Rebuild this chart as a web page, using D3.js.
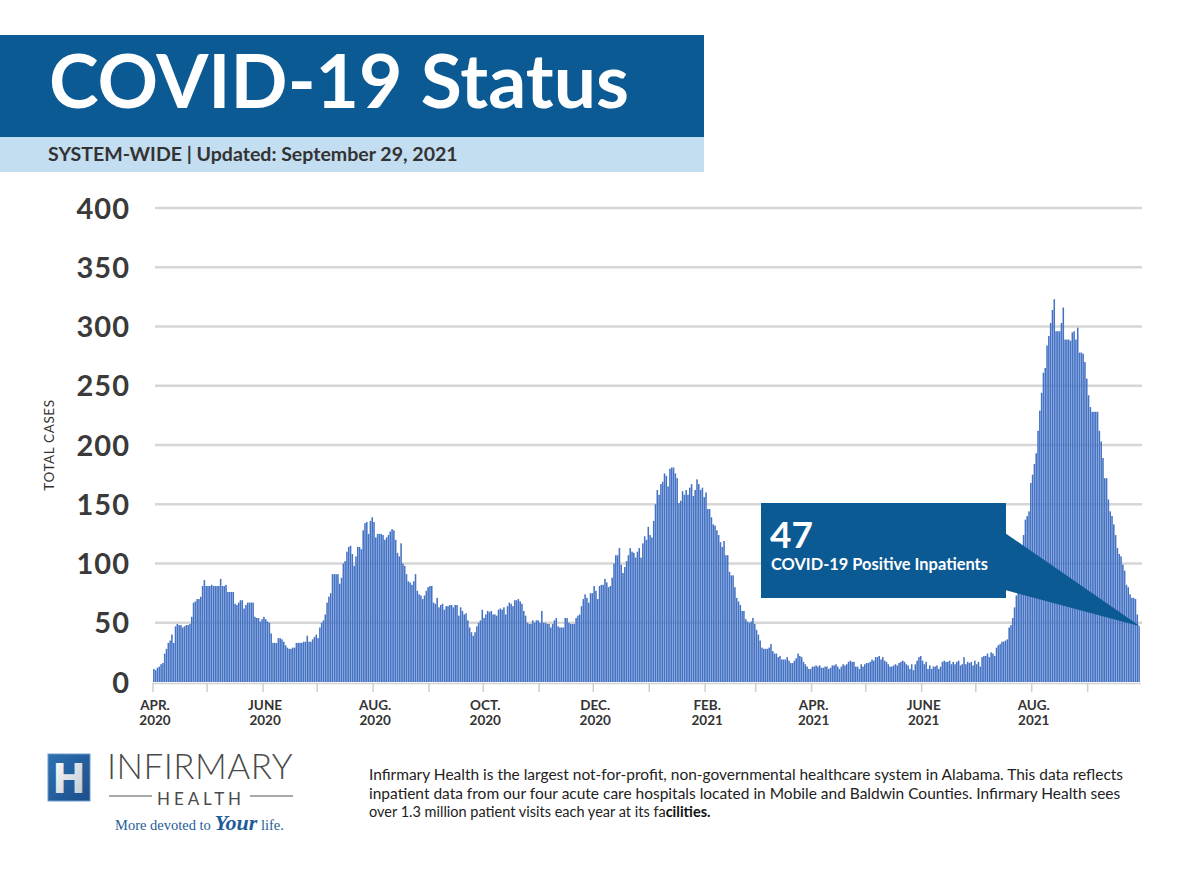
<!DOCTYPE html>
<html><head><meta charset="utf-8">
<script src="https://cdn.jsdelivr.net/npm/d3@7"></script>
<style>
html,body{margin:0;padding:0;background:#fff;}
svg{display:block;font-family:Lato,"Open Sans",sans-serif;}
</style></head>
<body>
<svg id="chart" width="1200" height="875"></svg>
<script>
// ---------- DATA ----------
const startDay = "2020-04-01";
const endDay = "2021-09-30";
// daily COVID-19 positive inpatients, Apr 1 2020 .. Sep 29 2021
const inpatients = [
11,10,12,13,15,16,24,28,33,35,
40,33,47,49,48,48,46,47,48,48,
49,55,67,68,70,70,72,81,86,81,
81,81,82,81,81,81,81,87,81,81,
82,76,76,76,76,66,65,67,69,69,
62,65,67,67,67,67,55,54,54,51,
53,55,53,51,50,41,33,33,33,37,
37,36,34,31,29,28,28,29,29,33,
33,33,33,34,34,39,34,34,36,38,
40,37,46,50,52,57,67,72,75,91,
91,91,91,83,88,100,102,110,114,115,
108,98,106,114,114,112,128,134,135,125,
136,139,135,122,125,125,125,124,120,122,
124,127,129,128,120,109,106,117,100,98,
91,85,84,82,85,91,77,74,73,70,
73,77,80,81,81,67,66,71,63,65,
66,61,64,64,65,65,63,65,65,56,
63,60,57,58,52,46,42,39,42,47,
50,52,61,54,57,60,59,60,57,57,
56,61,62,61,63,57,64,67,66,64,
69,69,70,68,66,60,56,50,49,49,
52,50,52,52,50,60,50,50,49,49,
46,49,52,54,47,46,46,46,54,54,
50,49,49,49,54,56,57,64,70,74,
71,67,75,75,81,77,70,81,82,82,
87,84,80,81,88,100,107,107,113,99,
92,97,102,107,113,110,109,105,110,113,
105,117,123,120,131,124,122,136,150,162,
158,167,169,176,174,165,180,181,181,176,
172,151,153,161,158,162,158,164,167,157,
162,171,167,162,164,156,160,146,146,139,
133,132,128,124,118,114,119,107,107,93,
90,90,80,71,68,65,60,60,53,51,
50,51,54,49,44,40,35,29,28,28,
28,29,32,26,24,24,21,22,19,19,
19,21,18,16,16,18,20,24,22,21,
17,15,13,11,11,13,13,14,13,14,
12,12,13,13,11,12,14,14,15,13,
11,13,15,14,15,17,18,17,17,13,
13,11,15,13,15,16,16,17,19,18,
21,21,22,19,21,18,17,15,13,13,
14,15,14,16,17,18,17,15,14,11,
15,10,15,18,21,22,18,15,17,11,
14,11,13,13,14,11,13,17,18,17,
17,18,15,17,15,17,18,14,15,21,
15,17,16,17,14,18,15,17,13,21,
22,22,24,21,25,24,22,29,31,32,
34,34,35,36,46,48,54,63,73,80,
91,105,124,137,140,144,168,175,184,193,
212,229,244,261,265,284,292,303,314,323,
296,296,296,303,316,289,289,289,288,295,
296,289,299,278,278,277,270,256,242,232,
228,228,228,228,212,203,189,172,172,154,
144,140,133,124,113,108,106,99,94,82,
80,74,71,71,70,57,47
];
const yTicks = [0,50,100,150,200,250,300,350,400];
const xLabelDates = ["2020-04-01","2020-06-01","2020-08-01","2020-10-01","2020-12-01","2021-02-01","2021-04-01","2021-06-01","2021-08-01"];
const xLabelMonths = ["APR.","JUNE","AUG.","OCT.","DEC.","FEB.","APR.","JUNE","AUG."];
const xLabelYears = ["2020","2020","2020","2020","2020","2021","2021","2021","2021"];
const titleText = "COVID-19 Status";
const subtitleText = "SYSTEM-WIDE | Updated: September 29, 2021";
const yAxisTitle = "TOTAL CASES";
const calloutValue = "47";
const calloutLabel = "COVID-19 Positive Inpatients";
const footnoteLines = [
 "Infirmary Health is the largest not-for-profit, non-governmental healthcare system in Alabama. This data reflects",
 "inpatient data from our four acute care hospitals located in Mobile and Baldwin Counties. Infirmary Health sees",
 "over 1.3 million patient visits each year at its fa"
];
const footnoteTail = "cilities.";

// ---------- STYLE ----------
const DARK = "#0b5a93", LIGHT = "#c3ddf1", BAR = "#4472c4", GRID = "#d6d6d6", TXT = "#333333";

const parse = d3.timeParse("%Y-%m-%d");
const t0 = parse(startDay), t1 = parse(endDay);
const data = inpatients.map((v,i)=>({date:d3.timeDay.offset(t0,i), value:v}));

const svg = d3.select("#chart");
svg.append("rect").attr("width",1200).attr("height",875).attr("fill","#fff");

function fit(sel, target){
  const w = sel.node().getComputedTextLength();
  const fs = parseFloat(sel.attr("font-size"));
  sel.attr("font-size", fs*target/w);
}
function fitSpacing(sel, target, n){
  sel.attr("letter-spacing",0);
  const w = sel.node().getComputedTextLength();
  sel.attr("letter-spacing", (target - w)/n);
}

// header
svg.append("rect").attr("x",0).attr("y",35).attr("width",704).attr("height",102).attr("fill",DARK);
svg.append("rect").attr("x",0).attr("y",137).attr("width",704).attr("height",35).attr("fill",LIGHT);
const title = svg.append("text").attr("x",49).attr("y",108).attr("fill","#fff")
  .attr("font-size",72).attr("font-weight",700).text(titleText);
fit(title, 580);
const sub = svg.append("text").attr("x",48).attr("y",161).attr("fill",TXT)
  .attr("font-size",17).attr("font-weight",700).text(subtitleText);
fit(sub, 410);

// scales
const x = d3.scaleTime().domain([t0,t1]).range([153,1140]);
const y = d3.scaleLinear().domain([0,400]).range([682,208]);

// gridlines + y labels
const g = svg.append("g");
g.selectAll("line.grid").data(yTicks.filter(d=>d>0)).join("line")
  .attr("x1",155).attr("x2",1142).attr("y1",d=>y(d)).attr("y2",d=>y(d))
  .attr("stroke",GRID).attr("stroke-width",2.6);
g.selectAll("text.yl").data(yTicks).join("text")
  .attr("x",130).attr("y",d=>y(d)+10.5).attr("text-anchor","end")
  .attr("font-size",29).attr("font-weight",700).attr("fill","#3a3a3a")
  .attr("letter-spacing",1).text(d=>d);

svg.append("text").attr("transform","translate(54,445) rotate(-90)")
  .attr("text-anchor","middle").attr("font-size",13.5).attr("fill",TXT)
  .attr("letter-spacing",0.6).text(yAxisTitle);

// x axis line and ticks
svg.append("line").attr("x1",153).attr("x2",1141).attr("y1",683.5).attr("y2",683.5)
  .attr("stroke","#d3d3d3").attr("stroke-width",1.5);
const months = d3.timeMonth.range(t0, t1);
svg.selectAll("line.tick").data(months).join("line")
  .attr("x1",d=>x(d)).attr("x2",d=>x(d)).attr("y1",683).attr("y2",692)
  .attr("stroke","#cfcfcf").attr("stroke-width",1.5);

// bars
svg.append("g").selectAll("rect").data(data).join("rect")
  .attr("x",d=>x(d.date)+0.1)
  .attr("width",d=>Math.max(0.5, x(d3.timeDay.offset(d.date,1))-x(d.date)-0.25))
  .attr("y",d=>y(d.value)).attr("height",d=>y(0)-y(d.value))
  .attr("fill",BAR);

// x labels
const xl = svg.append("g").selectAll("g").data(xLabelDates).join("g")
  .attr("transform",d=>`translate(${x(parse(d))+2},0)`);
xl.append("text").attr("y",710).attr("text-anchor","middle").attr("font-size",13.5)
  .attr("font-weight",700).attr("fill",TXT).text((d,i)=>xLabelMonths[i]);
xl.append("text").attr("y",725).attr("text-anchor","middle").attr("font-size",13.5)
  .attr("font-weight",700).attr("fill",TXT).text((d,i)=>xLabelYears[i]);

// callout
const last = data[data.length-1];
const tipX = x(d3.timeDay.offset(last.date,1)), tipY = y(last.value);
svg.append("polygon")
  .attr("points",`1005,533 ${tipX},${tipY} 1005,590`).attr("fill",DARK);
svg.append("rect").attr("x",761).attr("y",503).attr("width",245).attr("height",95).attr("fill",DARK);
svg.append("text").attr("x",770).attr("y",548).attr("fill","#fff").attr("font-size",37)
  .attr("font-weight",700).text(calloutValue);
const cl = svg.append("text").attr("x",771).attr("y",570).attr("fill","#fff").attr("font-size",15.5)
  .attr("font-weight",700).text(calloutLabel);
fit(cl, 217);

// footnote
footnoteLines.forEach((t,i)=>{
  const s = svg.append("text").attr("x",369).attr("y",780+i*18.5).attr("fill","#222")
    .attr("font-size",14.5);
  s.append("tspan").text(t);
  if(i===2) s.append("tspan").attr("font-weight",700).attr("fill","#111").text(footnoteTail);
  if(i<2) fit(s, i===0?755:752);
});

// logo
const defs = svg.append("defs");
const lg = defs.append("linearGradient").attr("id","lg").attr("x1",0).attr("y1",0).attr("x2",1).attr("y2",1);
lg.append("stop").attr("offset","0%").attr("stop-color","#2f6fb0");
lg.append("stop").attr("offset","100%").attr("stop-color","#1a4f8a");
const hg = defs.append("linearGradient").attr("id","hg").attr("x1",0).attr("y1",0).attr("x2",1).attr("y2",1);
hg.append("stop").attr("offset","0%").attr("stop-color","#ffffff");
hg.append("stop").attr("offset","100%").attr("stop-color","#b9c3cc");
svg.append("rect").attr("x",48).attr("y",754).attr("width",42).attr("height",47).attr("fill","url(#lg)")
  .attr("stroke","#6f9ccc").attr("stroke-width",1);
svg.append("text").attr("x",69).attr("y",793).attr("text-anchor","middle").attr("font-size",40)
  .attr("font-weight",900).attr("fill","url(#hg)").attr("font-family","'DejaVu Sans'").text("H");
const inf = svg.append("text").attr("x",107).attr("y",779).attr("fill","#4a4a4a")
  .attr("font-size",35).attr("font-weight",300).text("INFIRMARY");
fitSpacing(inf, 186, 9);
svg.append("line").attr("x1",109).attr("x2",152).attr("y1",796).attr("y2",796).attr("stroke","#555").attr("stroke-width",1.2);
svg.append("line").attr("x1",250).attr("x2",293).attr("y1",796).attr("y2",796).attr("stroke","#555").attr("stroke-width",1.2);
const hl = svg.append("text").attr("x",157).attr("y",804.5).attr("fill","#4a4a4a")
  .attr("font-size",17).attr("font-weight",400).text("HEALTH");
fitSpacing(hl, 88, 6);
const tag = svg.append("text").attr("x",115).attr("y",830).attr("fill","#1f5c99")
  .attr("font-family","'Liberation Serif','DejaVu Serif',serif").attr("font-size",14.5);
tag.append("tspan").text("More devoted to ");
tag.append("tspan").attr("font-style","italic").attr("font-size",22).attr("font-weight",700).text("Your");
tag.append("tspan").text(" life.");
</script>
</body></html>
